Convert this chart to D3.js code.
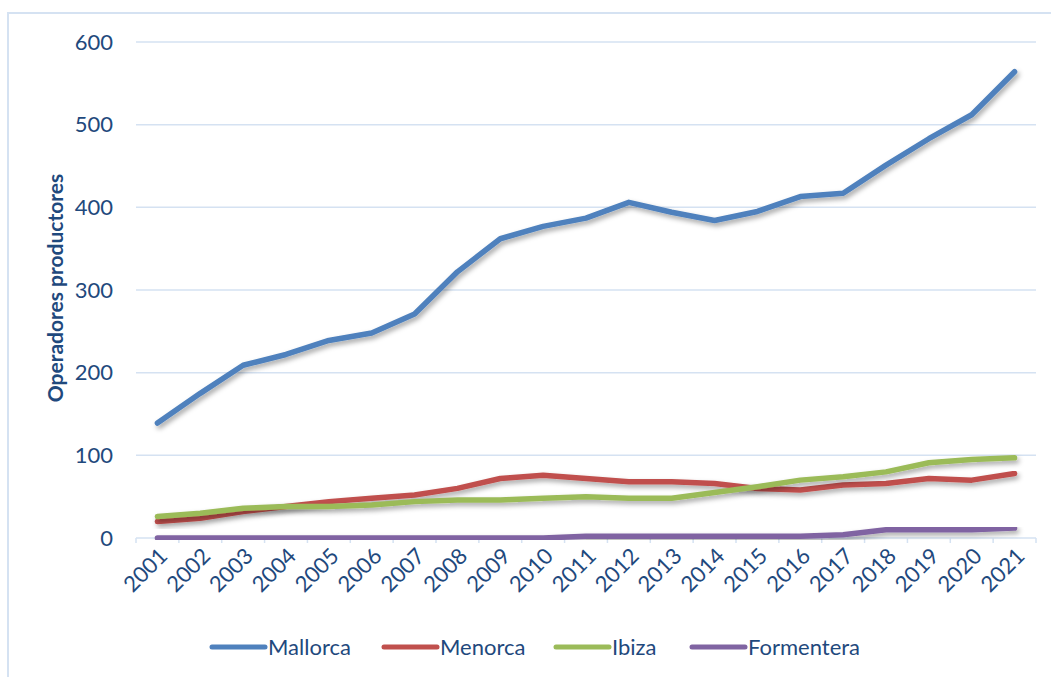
<!DOCTYPE html>
<html lang="es">
<head>
<meta charset="UTF-8">
<title>Operadores productores por isla</title>
<script src="https://d3js.org/d3.v7.min.js"></script>
<style>
    body { margin: 0; background: #fff; }
    svg { display: block; font-family: Lato, "Open Sans", sans-serif; }
    .grid line { stroke: #d5e2f2; stroke-width: 1.5; }
    .axis text { fill: #1f497d; font-size: 22px; }
</style>
</head>
<body>
<svg width="1051" height="677"></svg>
<script>
const years = ["2001","2002","2003","2004","2005","2006","2007","2008","2009","2010","2011",
               "2012","2013","2014","2015","2016","2017","2018","2019","2020","2021"];
const mallorca   = [139,175,209,222,239,248,271,322,362,377,387,406,394,384,395,413,417,451,483,512,564];
const menorca    = [20,24,32,38,44,48,52,60,72,76,72,68,68,66,60,58,64,66,72,70,78];
const ibiza      = [26,30,36,38,38,40,44,46,46,48,50,48,48,55,62,70,74,80,91,95,97];
const formentera = [0,0,0,0,0,0,0,0,0,0,2,2,2,2,2,2,4,10,10,10,12];
const yTicks = [0,100,200,300,400,500,600];

const series = [
    {name: "Mallorca", values: mallorca, color: "#4f81bd"},
    {name: "Menorca", values: menorca, color: "#c0504d"},
    {name: "Ibiza", values: ibiza, color: "#9bbb59"},
    {name: "Formentera", values: formentera, color: "#8064a2"}
];

const svg = d3.select("svg");

// chart frame
svg.append("rect")
    .attr("x", 8).attr("y", 13)
    .attr("width", 1060).attr("height", 680)
    .attr("fill", "none").attr("stroke", "#d5e2f2").attr("stroke-width", 2);

const defs = svg.append("defs");
const f = defs.append("filter").attr("id", "shadow")
    .attr("x", "-5%").attr("y", "-5%").attr("width", "110%").attr("height", "120%");
f.append("feDropShadow").attr("dx", 2).attr("dy", 3).attr("stdDeviation", 2.5)
    .attr("flood-color", "#000").attr("flood-opacity", 0.35);

const plotL = 136, plotR = 1036, plotT = 42, plotB = 538;

const x = d3.scaleBand().domain(years).range([plotL, plotR]);
const y = d3.scaleLinear().domain([0, 600]).range([plotB, plotT]);

// gridlines
svg.append("g").attr("class", "grid")
    .selectAll("line").data(yTicks.filter(d => d > 0)).join("line")
    .attr("x1", plotL).attr("x2", plotR)
    .attr("y1", d => y(d)).attr("y2", d => y(d));

// y axis labels
svg.append("g").attr("class", "axis")
    .selectAll("text").data(yTicks).join("text")
    .attr("x", 113).attr("y", d => y(d))
    .attr("dy", "0.35em")
    .attr("text-anchor", "end")
    .text(d => d);

// x axis
const xAxis = svg.append("g").attr("class", "axis")
    .attr("transform", `translate(0,${plotB})`);
xAxis.append("line").attr("x1", plotL).attr("x2", plotR)
    .attr("stroke", "#d5e2f2").attr("stroke-width", 1.5);
xAxis.selectAll("line.tick").data(d3.range(years.length + 1)).join("line")
    .attr("class", "tick")
    .attr("x1", i => plotL + i * x.step()).attr("x2", i => plotL + i * x.step())
    .attr("y1", 0).attr("y2", 5)
    .attr("stroke", "#d5e2f2").attr("stroke-width", 1.5);
xAxis.selectAll("text").data(years).join("text")
    .attr("transform", d => `translate(${x(d) + x.bandwidth() / 2 + 6},14) rotate(-45)`)
    .attr("text-anchor", "end")
    .attr("dy", "0.35em")
    .text(d => d);

// y axis title
svg.append("text")
    .attr("transform", `translate(63,${(plotT + plotB) / 2 - 2}) rotate(-90)`)
    .attr("text-anchor", "middle")
    .attr("fill", "#1f497d")
    .attr("font-size", "21px")
    .attr("font-weight", "bold")
    .text("Operadores productores");

// lines
const line = d3.line()
    .x((d, i) => x(years[i]) + x.bandwidth() / 2)
    .y(d => y(d));

svg.append("g").selectAll("path").data(series).join("path")
    .attr("d", d => line(d.values))
    .attr("fill", "none")
    .attr("stroke", d => d.color)
    .attr("stroke-width", 5.5)
    .attr("stroke-linejoin", "round")
    .attr("stroke-linecap", "round")
    .attr("filter", "url(#shadow)");

// legend
const legendX = [212, 384, 556, 692];
const legend = svg.append("g").selectAll("g").data(series).join("g")
    .attr("transform", (d, i) => `translate(${legendX[i]},647)`);
legend.append("line")
    .attr("x1", 0).attr("x2", 53)
    .attr("stroke", d => d.color).attr("stroke-width", 5)
    .attr("stroke-linecap", "round");
legend.append("text")
    .attr("x", 56).attr("dy", "0.35em")
    .attr("fill", "#1f497d").attr("font-size", "22px")
    .text(d => d.name);
</script>
</body>
</html>
